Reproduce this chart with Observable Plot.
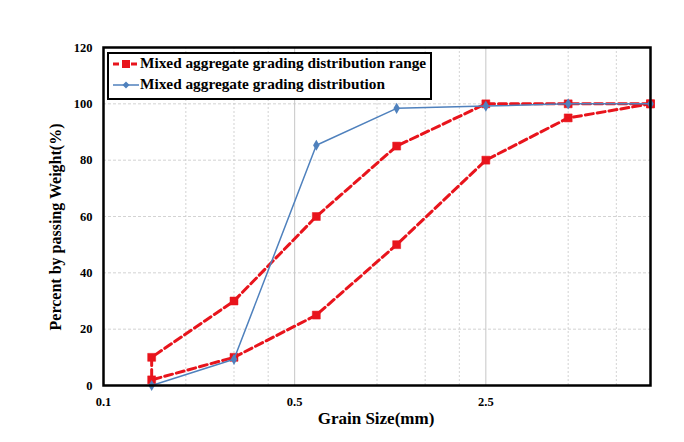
<!DOCTYPE html>
<html>
<head>
<meta charset="utf-8">
<script src="https://cdn.jsdelivr.net/npm/d3@7"></script>
<script src="https://cdn.jsdelivr.net/npm/@observablehq/plot@0.6"></script>
<style>
  html, body { margin: 0; padding: 0; background: #fff; }
  #chart { width: 684px; height: 442px; }
</style>
</head>
<body>
<div id="chart"></div>
<script>
// Sieve sizes (mm)
const sizes = [0.15, 0.3, 0.6, 1.18, 2.5, 5, 10];
// Grading range: upper and lower limits (% passing)
const upper = [10, 30, 60, 85, 100, 100, 100];
const lower = [2, 10, 25, 50, 80, 95, 100];
// Mixed aggregate grading distribution (% passing)
const blend = [0, 9.3, 85.3, 98.4, 99.2, 100, 100];
// Axis ticks and grid
const xTicks = [0.1, 0.5, 2.5];
const xMinorGrid = [0.2, 0.3, 0.4, 1, 1.5, 2, 5, 7.5];
const yTicks = [0, 20, 40, 60, 80, 100, 120];
const yGrid = [20, 40, 60, 80, 100];

const labelRange = "Mixed aggregate grading distribution range";
const labelBlend = "Mixed aggregate grading distribution";
const xTitle = "Grain Size(mm)";
const yTitle = "Percent by passing Weight(%)";

const RED = "#e8141c";
const BLUE = "#4f81bd";
const FONT = "'Liberation Serif', 'Times New Roman', serif";

// One Excel series: upper limit from coarse to fine, then lower limit from fine to coarse
const rangeData = [
  ...sizes.map((s, i) => ({x: s, y: upper[i]})).reverse(),
  ...sizes.map((s, i) => ({x: s, y: lower[i]}))
];
const blendData = sizes.map((s, i) => ({x: s, y: blend[i]}));

const ml = 103, mr = 34, mt = 47, mb = 57, W = 684, H = 442;

const chart = Plot.plot({
  width: W, height: H,
  marginLeft: ml, marginRight: mr, marginTop: mt, marginBottom: mb,
  style: {fontFamily: FONT, fontWeight: "bold", fontSize: "12.5px", background: "#fff", color: "#000"},
  x: {type: "log", domain: [0.1, 10], ticks: xTicks, tickFormat: d => String(d)},
  y: {domain: [0, 120], ticks: yTicks},
  marks: [
    Plot.ruleX(xMinorGrid, {stroke: "#c8c8c8", strokeWidth: 0.8, strokeDasharray: "2,2"}),
    Plot.ruleX([0.5, 2.5], {stroke: "#b8b8b8", strokeWidth: 0.8}),
    Plot.ruleY(yGrid, {stroke: "#c8c8c8", strokeWidth: 0.8, strokeDasharray: "3,2"}),
    Plot.line(rangeData, {x: "x", y: "y", stroke: RED, strokeWidth: 3, strokeDasharray: "8,4", curve: "linear"}),
    Plot.dot(rangeData, {x: "x", y: "y", symbol: "square", fill: RED, stroke: RED, strokeWidth: 0.5, r: 4.5}),
    Plot.line(blendData, {x: "x", y: "y", stroke: BLUE, strokeWidth: 1.5}),
    Plot.dot(blendData, {x: "x", y: "y", symbol: "diamond", fill: BLUE, r: 3.4}),
    Plot.frame({stroke: "#000", strokeWidth: 2.5}),
    Plot.axisX({ticks: xTicks, tickFormat: d => String(d), tickSize: 0, tickPadding: 12, label: null, fontWeight: "bold"}),
    Plot.axisY({ticks: yTicks, tickSize: 0, tickPadding: 11, label: null, fontWeight: "bold"})
  ]
});

document.getElementById("chart").appendChild(chart);

const svg = d3.select(chart);

// Axis titles
svg.append("text")
  .attr("x", 376).attr("y", 420)
  .attr("text-anchor", "middle").attr("dominant-baseline", "middle")
  .style("font-family", FONT).style("font-weight", "bold").style("font-size", "17px")
  .text(xTitle);

svg.append("text")
  .attr("transform", "translate(57.5,227) rotate(-90)")
  .attr("text-anchor", "middle").attr("dominant-baseline", "middle")
  .style("font-family", FONT).style("font-weight", "bold").style("font-size", "16px")
  .text(yTitle);

// Legend box inside plot area
const lg = svg.append("g").attr("transform", "translate(108,53)");
lg.append("rect").attr("width", 323).attr("height", 46)
  .attr("fill", "#fff").attr("stroke", "#000").attr("stroke-width", 2);

const e1 = lg.append("g").attr("transform", "translate(0,11)");
e1.append("line").attr("x1", 5).attr("x2", 31).attr("y1", 0).attr("y2", 0)
  .attr("stroke", RED).attr("stroke-width", 3).attr("stroke-dasharray", "6,3");
e1.append("rect").attr("x", 14).attr("y", -4).attr("width", 8).attr("height", 8).attr("fill", RED);
e1.append("text").attr("x", 32).attr("y", 0)
  .attr("text-anchor", "start").attr("dominant-baseline", "middle")
  .style("font-family", FONT).style("font-weight", "bold").style("font-size", "15.3px")
  .text(labelRange);

const e2 = lg.append("g").attr("transform", "translate(0,32)");
e2.append("line").attr("x1", 5).attr("x2", 31).attr("y1", 0).attr("y2", 0)
  .attr("stroke", BLUE).attr("stroke-width", 1.5);
e2.append("path").attr("d", "M18,-3.5L21.5,0L18,3.5L14.5,0Z").attr("fill", BLUE);
e2.append("text").attr("x", 32).attr("y", 0)
  .attr("text-anchor", "start").attr("dominant-baseline", "middle")
  .style("font-family", FONT).style("font-weight", "bold").style("font-size", "15.3px")
  .text(labelBlend);
</script>
</body>
</html>
